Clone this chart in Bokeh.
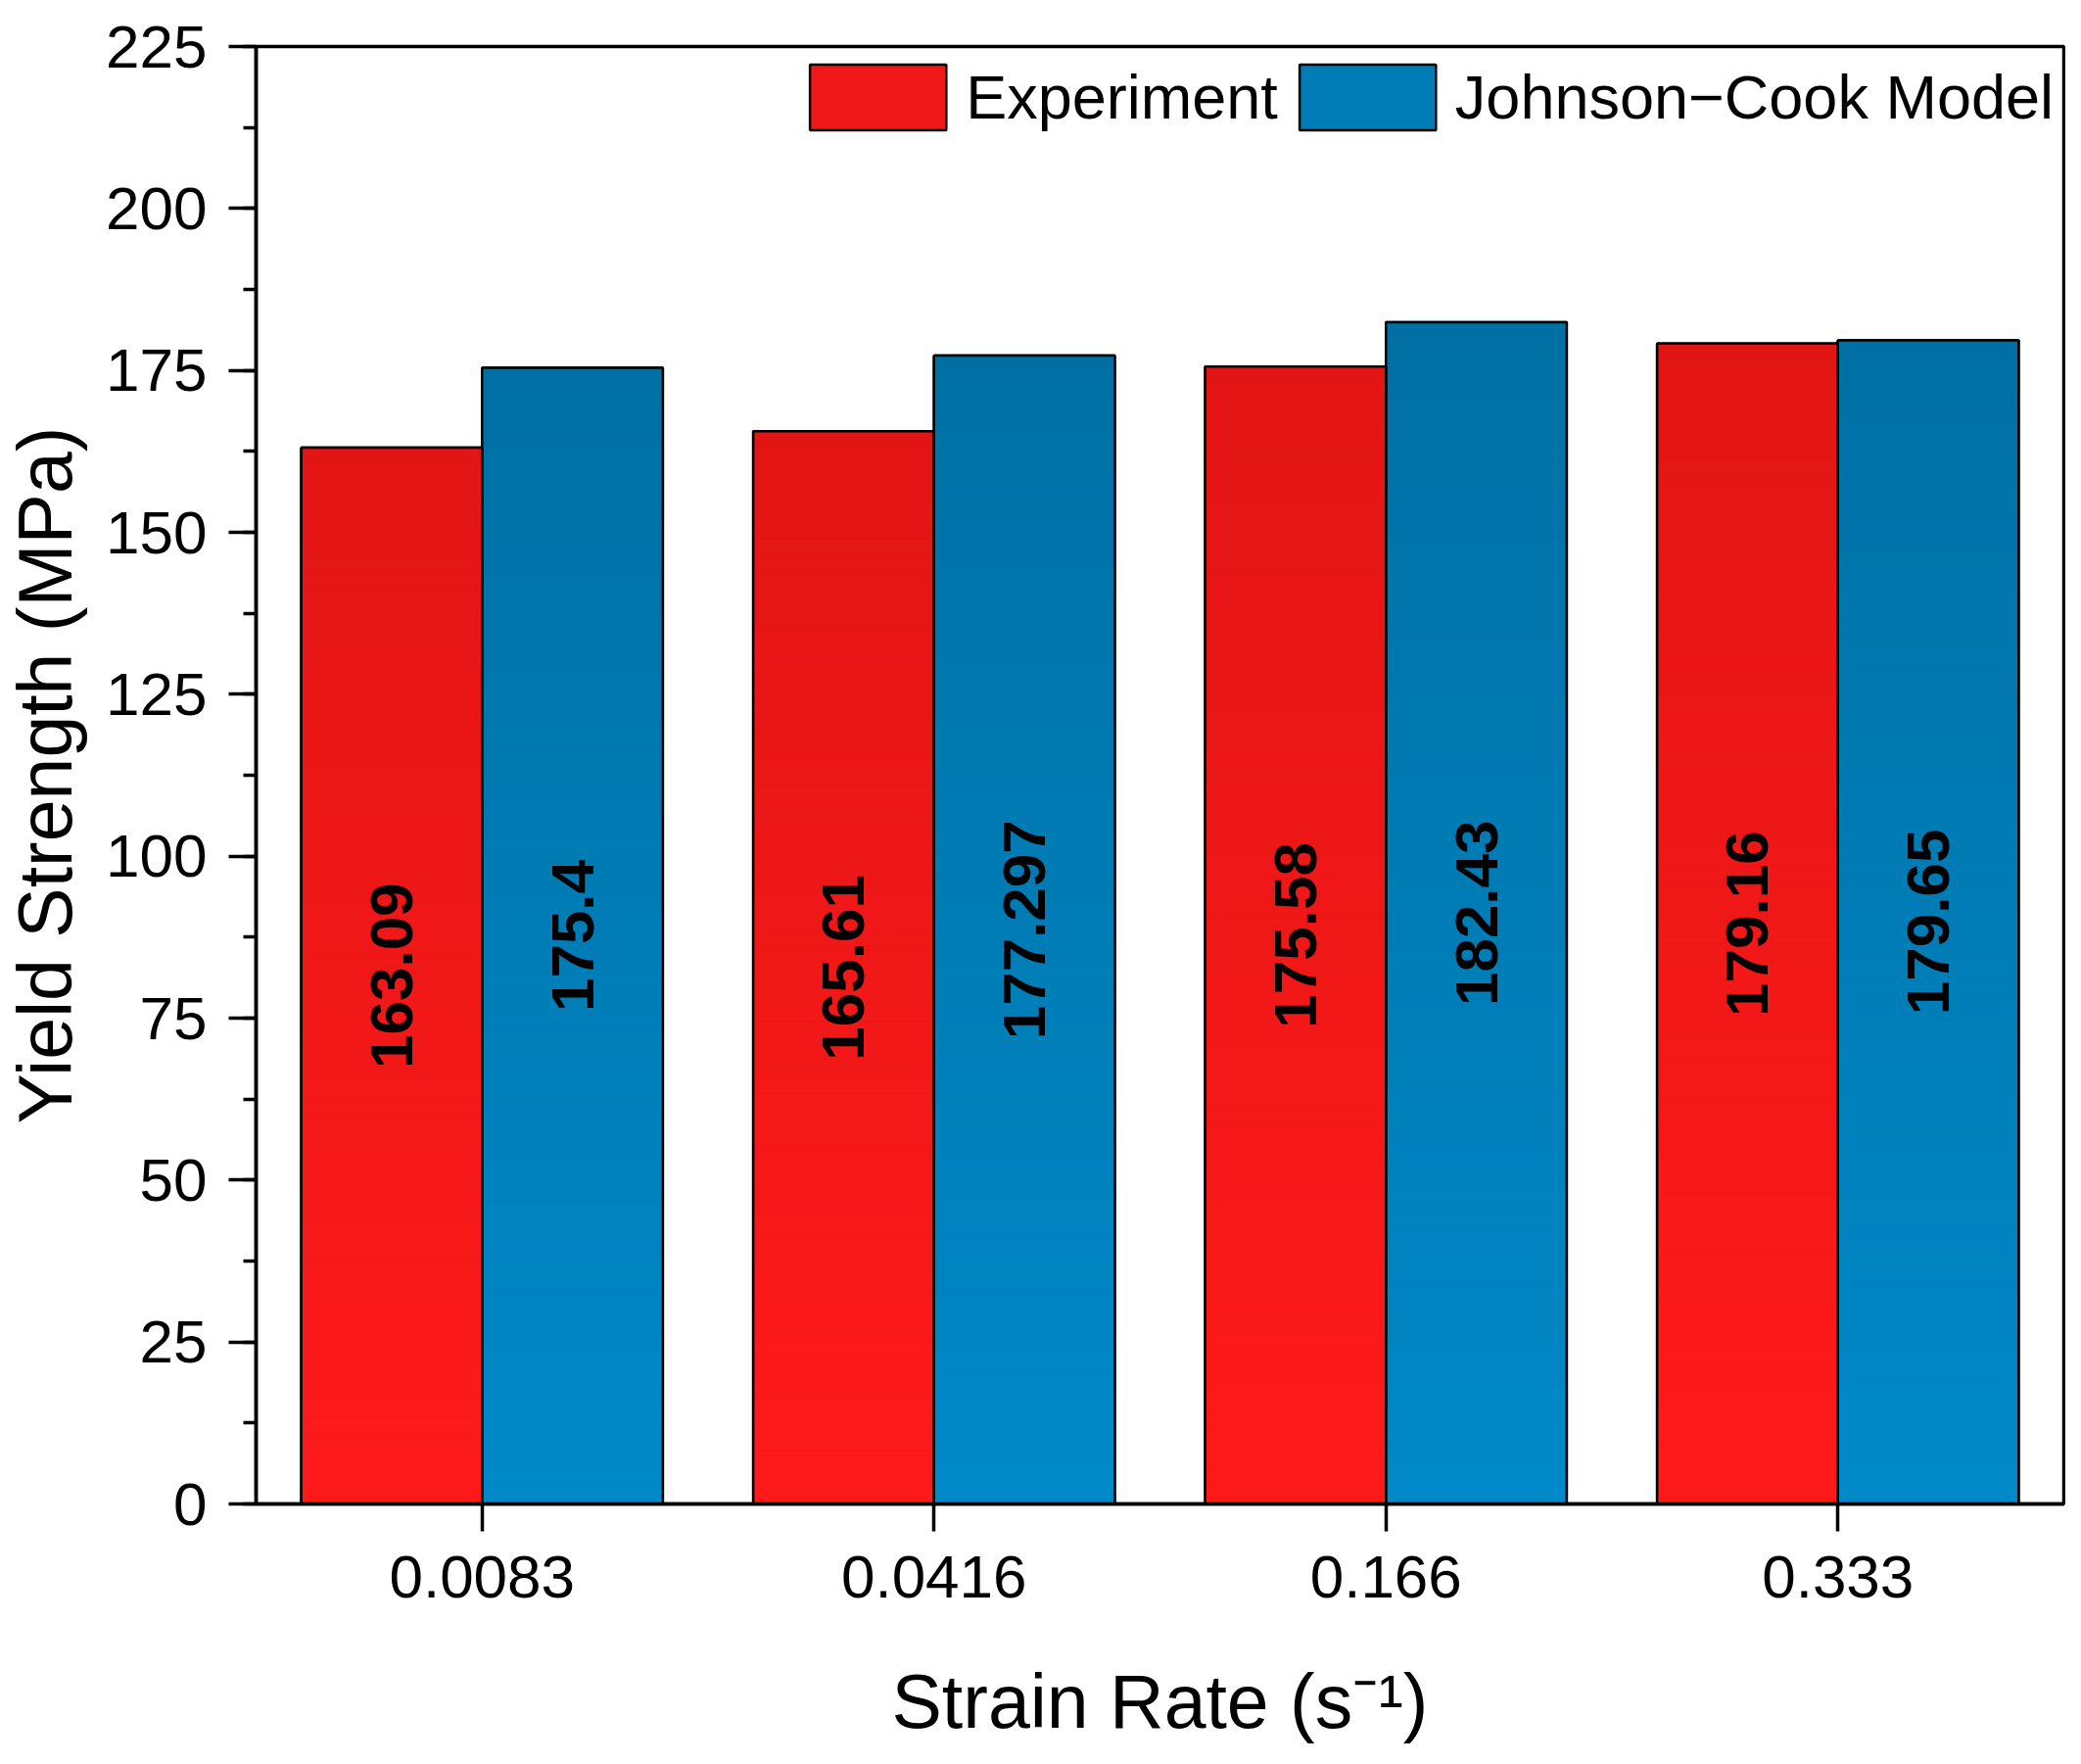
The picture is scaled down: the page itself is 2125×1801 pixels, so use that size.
import math
from bokeh.plotting import figure
from bokeh.models import (ColumnDataSource, FactorRange, Range1d, SingleIntervalTicker,
                          Legend, LegendItem)
from bokeh.transform import dodge
from bokeh.core.properties import value
from bokeh.embed import file_html
from bokeh.resources import INLINE

# ---- data ----
strain_rates = ["0.0083", "0.0416", "0.166", "0.333"]
experiment = [163.09, 165.61, 175.58, 179.16]
johnson_cook = [175.4, 177.297, 182.43, 179.65]
experiment_labels = ["163.09", "165.61", "175.58", "179.16"]
johnson_cook_labels = ["175.4", "177.297", "182.43", "179.65"]
series_names = ["Experiment", "Johnson\u2212Cook Model"]

# ---- styles ----
FONT = "Liberation Sans"
RED_TOP, RED_BOTTOM = (0xE2, 0x15, 0x15), (0xFF, 0x1A, 0x1A)
BLUE_TOP, BLUE_BOTTOM = (0x00, 0x70, 0xA4), (0x00, 0x89, 0xC8)
N_SLICES = 60
BAR_W = 0.4


def mix(c_bottom, c_top, t):
    r, g, b = (round(c_bottom[i] + (c_top[i] - c_bottom[i]) * t) for i in range(3))
    return "#%02x%02x%02x" % (r, g, b)


def gradient_source(values, c_bottom, c_top):
    cat, bot, top, col = [], [], [], []
    for c, v in zip(strain_rates, values):
        for k in range(N_SLICES):
            cat.append(c)
            bot.append(v * k / N_SLICES)
            top.append(v * (k + 1) / N_SLICES)
            col.append(mix(c_bottom, c_top, (k + 0.5) / N_SLICES))
    return ColumnDataSource(dict(cat=cat, bottom=bot, top=top, color=col))


p = figure(width=2109, height=1785,
           x_range=FactorRange(factors=strain_rates, range_padding=0),
           y_range=Range1d(0, 225),
           output_backend="svg", toolbar_location=None,
           min_border_left=260, min_border_right=2,
           min_border_top=47, min_border_bottom=250)
p.background_fill_color = "white"
p.border_fill_color = "white"
p.xgrid.visible = False
p.ygrid.visible = False
p.outline_line_color = "black"
p.outline_line_width = 3.5
p.outline_line_alpha = 1

bars = ColumnDataSource(dict(cat=strain_rates, exp=experiment, jc=johnson_cook,
                             exp_mid=[v / 2 for v in experiment],
                             jc_mid=[v / 2 for v in johnson_cook],
                             exp_lab=experiment_labels, jc_lab=johnson_cook_labels))

specs = [("exp", "exp_mid", "exp_lab", -0.2, RED_BOTTOM, RED_TOP, experiment),
         ("jc", "jc_mid", "jc_lab", 0.2, BLUE_BOTTOM, BLUE_TOP, johnson_cook)]

# base bars (mid-tone, also used for legend), covered by gradient slices
legend_renderers = []
for col, mid, lab, off, cb, ct, vals in specs:
    r = p.vbar(x=dodge("cat", off, range=p.x_range), width=BAR_W, top=col, bottom=0,
               source=bars, fill_color=mix(cb, ct, 0.5), line_color="black", line_width=2.5)
    legend_renderers.append(r)

# gradient slices
for col, mid, lab, off, cb, ct, vals in specs:
    src = gradient_source(vals, cb, ct)
    p.vbar(x=dodge("cat", off, range=p.x_range), width=BAR_W, bottom="bottom", top="top",
           source=src, fill_color="color", line_color="color", line_width=1)

# outlines and labels
for col, mid, lab, off, cb, ct, vals in specs:
    p.vbar(x=dodge("cat", off, range=p.x_range), width=BAR_W, top=col, bottom=0,
           source=bars, fill_color=None, line_color="black", line_width=2.5)
    p.text(x=dodge("cat", off, range=p.x_range), y=mid, text=lab, source=bars,
           angle=math.pi / 2, text_align="center", text_baseline="middle",
           text_font=value(FONT), text_font_style="bold", text_font_size="62px",
           text_color="black")

legend = Legend(items=[LegendItem(label=series_names[0], renderers=[legend_renderers[0]]),
                       LegendItem(label=series_names[1], renderers=[legend_renderers[1]])],
                orientation="horizontal", location="top_right",
                glyph_width=174, glyph_height=84, label_standoff=3, spacing=4,
                label_text_font=FONT, label_text_font_size="63px",
                label_text_color="black",
                label_height=67, padding=10, margin=0,
                border_line_alpha=0, background_fill_alpha=0)
p.add_layout(legend)

# axes
yax = p.yaxis[0]
yax.ticker = SingleIntervalTicker(interval=25, num_minor_ticks=2)
yax.axis_label = "Yield Strength (MPa)"
for ax in (p.xaxis[0], yax):
    ax.axis_line_width = 3.5
    ax.major_tick_line_width = 3.5
    ax.minor_tick_line_width = 3.5
    ax.major_tick_in = 0
    ax.major_tick_out = 28
    ax.minor_tick_in = 0
    ax.minor_tick_out = 13
    ax.major_label_text_font = FONT
    ax.major_label_text_font_size = "62px"
    ax.major_label_text_color = "black"
    ax.axis_label_text_font = FONT
    ax.axis_label_text_font_style = "normal"
    ax.axis_label_text_font_size = "77px"
    ax.axis_label_text_color = "black"
yax.major_label_standoff = 22
yax.axis_label_standoff = 16
xax = p.xaxis[0]
xax.axis_label = "Strain Rate (s\u207B\u00B9)"
xax.major_label_standoff = 25
xax.axis_label_standoff = 60
xax.minor_tick_line_color = None

open("out.html", "w").write(file_html(p, INLINE))
